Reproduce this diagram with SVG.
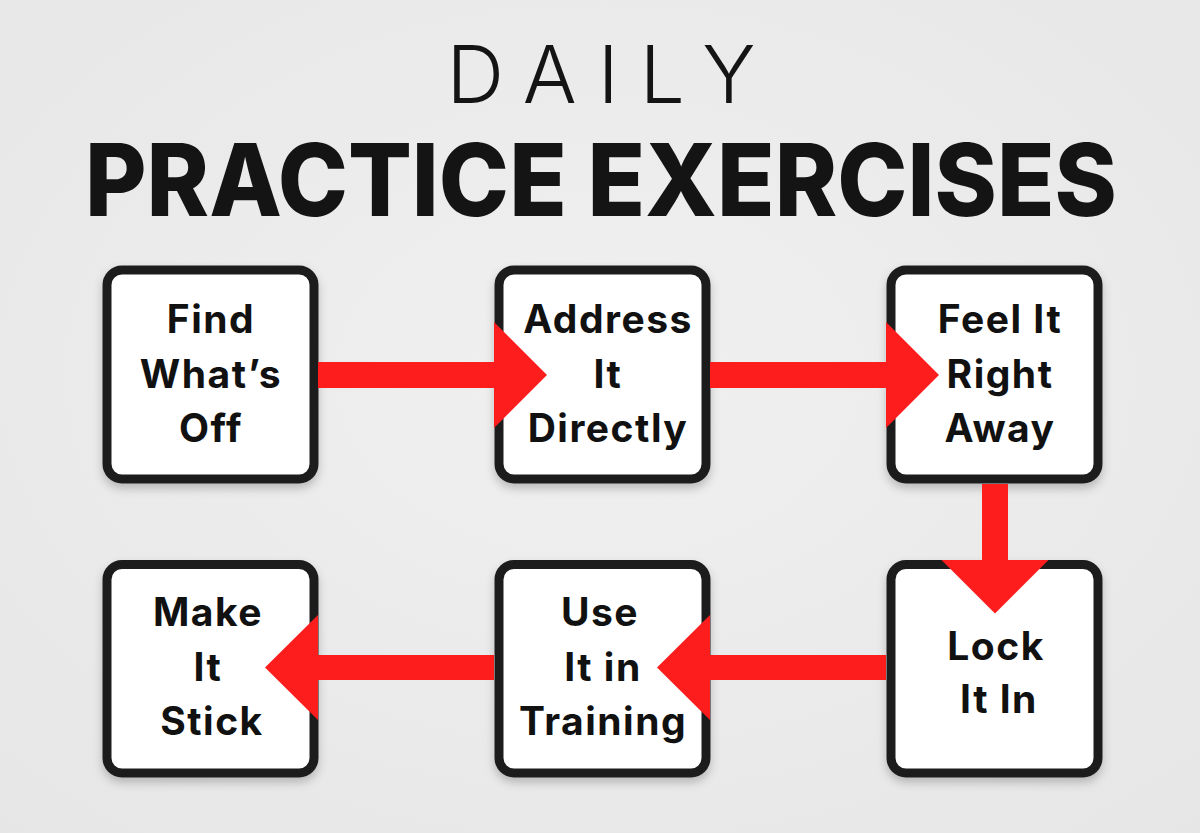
<svg xmlns="http://www.w3.org/2000/svg" width="1200" height="833" viewBox="0 0 1200 833">
  <defs>
    <filter id="shadow" x="-20%" y="-20%" width="140%" height="140%">
      <feDropShadow dx="0" dy="5" stdDeviation="5" flood-color="#000" flood-opacity="0.22"/>
    </filter>
    <radialGradient id="bg" cx="50%" cy="45%" r="75%">
      <stop offset="0" stop-color="#f0f0f0"/>
      <stop offset="1" stop-color="#e6e6e6"/>
    </radialGradient>
  </defs>
  <style>
    .box { fill: #ffffff; stroke: #1f1f1f; stroke-width: 9; filter: url(#shadow); }
    .lbl { font-family: Inter, "Liberation Sans", sans-serif; font-weight: 700; font-size: 39px; letter-spacing: 1.5px; fill: #111111; text-anchor: middle; }
    .arrow { fill: #fd1d1d; }
    .t1 { font-family: Inter, "Liberation Sans", sans-serif; font-weight: 300; font-size: 80px; fill: #141414; text-anchor: middle; }
    .t2 { font-family: Inter, "Liberation Sans", sans-serif; font-weight: 800; font-size: 101px; fill: #141414; text-anchor: middle; }
  </style>
  <rect x="0" y="0" width="1200" height="833" fill="url(#bg)"/>

  <g id="title">
    <text class="t1" x="601" y="103" textLength="309" lengthAdjust="spacing">DAILY</text>
    <text class="t2" x="601" y="216" textLength="1032" lengthAdjust="spacingAndGlyphs">PRACTICE EXERCISES</text>
  </g>

  <g id="node-find">
    <rect class="box" x="107" y="270" width="207" height="209" rx="15"/>
    <text class="lbl" x="211" y="333">Find</text>
    <text class="lbl" x="211" y="387.5">What’s</text>
    <text class="lbl" x="211" y="442">Off</text>
  </g>
  <g id="node-address">
    <rect class="box" x="499" y="270" width="207" height="209" rx="15"/>
    <text class="lbl" x="608" y="333">Address</text>
    <text class="lbl" x="608" y="387.5">It</text>
    <text class="lbl" x="608" y="442">Directly</text>
  </g>
  <g id="node-feel">
    <rect class="box" x="891" y="270" width="207" height="209" rx="15"/>
    <text class="lbl" x="1000" y="333">Feel It</text>
    <text class="lbl" x="1000" y="387.5">Right</text>
    <text class="lbl" x="1000" y="442">Away</text>
  </g>
  <g id="node-lock">
    <rect class="box" x="891" y="564.5" width="207" height="208.5" rx="15"/>
    <text class="lbl" x="996" y="660">Lock</text>
    <text class="lbl" x="999" y="713">It In</text>
  </g>
  <g id="node-use">
    <rect class="box" x="499" y="564.5" width="207" height="208.5" rx="15"/>
    <text class="lbl" x="600" y="626">Use</text>
    <text class="lbl" x="603" y="680.5">It in</text>
    <text class="lbl" x="603" y="735">Training</text>
  </g>
  <g id="node-make">
    <rect class="box" x="107" y="564.5" width="207" height="208.5" rx="15"/>
    <text class="lbl" x="208" y="626">Make</text>
    <text class="lbl" x="208" y="680.5">It</text>
    <text class="lbl" x="212" y="735">Stick</text>
  </g>

  <g id="connectors">
    <polygon class="arrow" points="318,362 494,362 494,322 547,375 494,428 494,388 318,388"/>
    <polygon class="arrow" points="710,362 886,362 886,322 939,375 886,428 886,388 710,388"/>
    <polygon class="arrow" points="982,484 1008,484 1008,560 1048.5,560 995,613.5 941.5,560 982,560"/>
    <polygon class="arrow" points="886,655 710,655 710,615 657,667.5 710,720 710,680 886,680"/>
    <polygon class="arrow" points="494,655 318,655 318,615 265,667.5 318,720 318,680 494,680"/>
  </g>
</svg>
